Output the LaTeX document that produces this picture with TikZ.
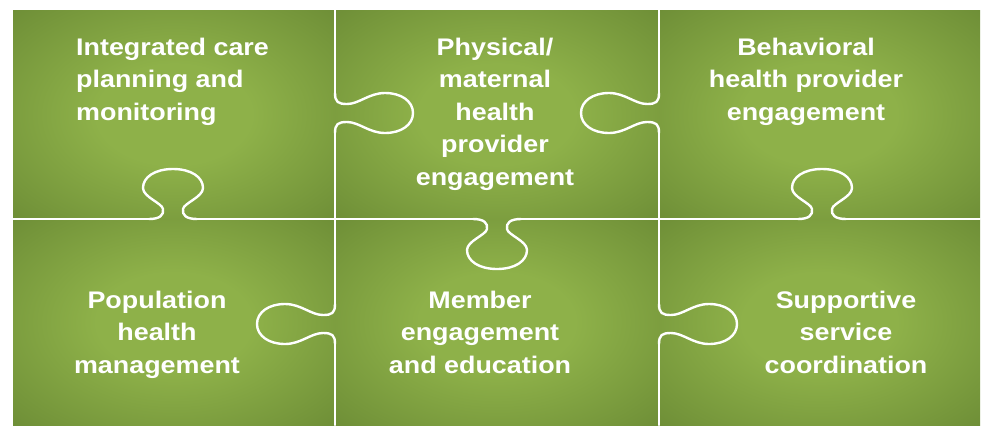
\documentclass[tikz,border=0pt]{standalone}
\usepackage{fontspec}
\setmainfont[FakeStretch=1.12]{Liberation Sans}
\definecolor{pzlight}{RGB}{142,177,73}
\definecolor{pzdark}{RGB}{107,139,53}
\pgfdeclareradialshading{pzshade}{\pgfpoint{0bp}{0bp}}{color(0bp)=(pzlight); color(12bp)=(pzlight); color(38bp)=(pzdark); color(50bp)=(pzdark)}
\tikzset{
  pzline/.style={draw=white, line width=2.4pt, line cap=round, line join=round},
  pzcell/.style={shading=pzshade},
  pztext/.style={text=white, inner sep=0pt, font=\fontsize{24}{32.5}\selectfont\bfseries},
  vtab/.pic={\draw[pzline] (-24,0) .. controls (-13,0) and (-9,-4) .. (-10,-10)
      .. controls (-11,-16) and (-30,-22) .. (-30,-31)
      .. controls (-30,-42) and (-18,-50) .. (0,-50)
      .. controls (18,-50) and (30,-42) .. (30,-31)
      .. controls (30,-22) and (11,-16) .. (10,-10)
      .. controls (9,-4) and (13,0) .. (24,0);},
  htab/.pic={\draw[pzline] (0,-20) .. controls (0,-11) and (3,-9) .. (12,-9)
      .. controls (24,-9) and (34,-20) .. (50,-20)
      .. controls (66,-20) and (78,-12) .. (78,0)
      .. controls (78,12) and (66,20) .. (50,20)
      .. controls (34,20) and (24,9) .. (12,9)
      .. controls (3,9) and (0,11) .. (0,20);}
}
\begin{document}
\begin{tikzpicture}[x=1pt,y=-1pt]
\useasboundingbox (0,0) rectangle (984,429);
\fill[white] (0,0) rectangle (984,429);
% cells
\fill[pzcell] (13,10) rectangle (335,219);
\fill[pzcell] (335,10) rectangle (659,219);
\fill[pzcell] (659,10) rectangle (980,219);
\fill[pzcell] (13,219) rectangle (335,425);
\fill[pzcell] (335,219) rectangle (659,425);
\fill[pzcell] (659,219) rectangle (980,425);
% horizontal seam
\draw[pzline] (13,219) -- (149,219);
\draw[pzline] (197,219) -- (473,219);
\draw[pzline] (521,219) -- (798,219);
\draw[pzline] (846,219) -- (980,219);
\pic at (173,219) {vtab};
\pic[rotate=180] at (497,219) {vtab};
\pic at (822,219) {vtab};
% vertical seams
\draw[pzline] (335,10) -- (335,93);
\draw[pzline] (335,133) -- (335,304);
\draw[pzline] (335,344) -- (335,425);
\pic at (335,113) {htab};
\pic[rotate=180] at (335,324) {htab};
\draw[pzline] (659,10) -- (659,93);
\draw[pzline] (659,133) -- (659,304);
\draw[pzline] (659,344) -- (659,425);
\pic[rotate=180] at (659,113) {htab};
\pic at (659,324) {htab};
% texts
\node[pztext, anchor=north west, align=left] (t1) at (76,37.6) {Integrated care\\planning and\\monitoring};
\node[pztext, anchor=north, align=center] (t2) at (495,37.6) {Physical/\\maternal\\health\\provider\\engagement};
\node[pztext, anchor=north, align=center] (t3) at (806,37.6) {Behavioral\\health provider\\engagement};
\node[pztext, anchor=north, align=center] (t4) at (157,290.6) {Population\\health\\management};
\node[pztext, anchor=north, align=center] (t5) at (480,290.6) {Member\\engagement\\and education};
\node[pztext, anchor=north, align=center] (t6) at (846,290.6) {Supportive\\service\\coordination};
\end{tikzpicture}
\end{document}
